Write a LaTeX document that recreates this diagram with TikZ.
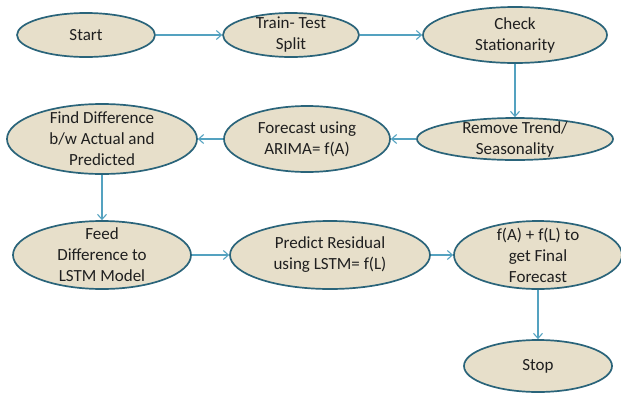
\documentclass[tikz,border=0pt]{standalone}
\usepackage{fontspec}
\setmainfont{Carlito}
\usetikzlibrary{arrows.meta, shapes.geometric}
\definecolor{my_beige}{RGB}{231, 223, 202}
\definecolor{my_teal}{RGB}{42, 100, 122}
\definecolor{my_arrow}{RGB}{84, 162, 192}
\tikzset {
  stage/.style = {draw=my_teal, line width=1.7pt, fill=my_beige, ellipse, inner sep=0pt},
  txt/.style = {align=center, text=black!88, font=\fontsize{17}{21}\selectfont, inner sep=0pt},
  line/.style = {-{Straight Barb[length=5pt, width=9pt]}, line width=1.1pt, color=my_arrow}
}
\begin{document}
\begin{tikzpicture}[x=1pt, y=-1pt]
    \useasboundingbox (0,0) rectangle (621,394);
    % first row
    \node[stage, minimum width=138pt, minimum height=44pt, label={[txt]center:Start}] (start) at (86,35) {};
    \node[stage, minimum width=136pt, minimum height=44pt, label={[txt]center:{Train- Test\\Split}}] (split) at (291,35) {};
    \node[stage, minimum width=184pt, minimum height=56pt, label={[txt]center:{Check\\Stationarity}}] (check) at (515,35) {};
    % second row
    \node[stage, minimum width=196pt, minimum height=42pt, label={[txt]center:{Remove Trend/\\Seasonality}}] (trend) at (515,139) {};
    \node[stage, minimum width=166pt, minimum height=66pt, label={[txt]center:{Forecast using\\ARIMA= f(A)}}] (arima) at (307,139) {};
    \node[stage, minimum width=190pt, minimum height=70pt, label={[txt]center:{Find Difference\\b/w Actual and\\Predicted}}] (diff) at (102,139) {};
    % third row
    \node[stage, minimum width=178pt, minimum height=68pt, label={[txt]center:{Feed\\Difference to\\LSTM Model}}] (feed) at (102,255) {};
    \node[stage, minimum width=200pt, minimum height=68pt, label={[txt]center:{Predict Residual\\using LSTM= f(L)}}] (lstm) at (330,255) {};
    \node[stage, minimum width=168pt, minimum height=68pt, label={[txt]center:{f(A) + f(L) to\\get Final\\Forecast}}] (final) at (538,255) {};
    \node[stage, minimum width=148pt, minimum height=52pt, label={[txt]center:Stop}] (stop) at (538,366) {};

    \draw[line] (start) -- (split);
    \draw[line] (split) -- (check);
    \draw[line] (check) -- (trend);
    \draw[line] (trend) -- (arima);
    \draw[line] (arima) -- (diff);
    \draw[line] (diff) -- (feed);
    \draw[line] (feed) -- (lstm);
    \draw[line] (lstm) -- (final);
    \draw[line] (final) -- (stop);
\end{tikzpicture}
\end{document}
